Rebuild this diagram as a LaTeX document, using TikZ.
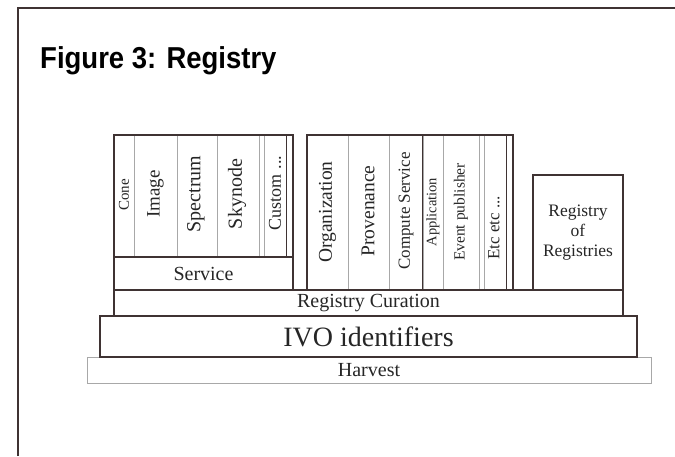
\documentclass[tikz,border=0pt]{standalone}
\usepackage{fontspec}
\setmainfont{Liberation Serif}
\newfontfamily\titlefont{Liberation Sans}
\newcommand\fsz[1]{\fontsize{#1}{#1}\selectfont}
\definecolor{dk}{HTML}{3F3333}
\definecolor{lg}{HTML}{A8A8A8}
\definecolor{tx}{HTML}{262626}
\begin{document}
\begin{tikzpicture}[x=1pt,y=-1pt,
  box/.style={draw=dk, line width=1.1pt, inner sep=0pt, text=tx, font=\fsz{20}},
  lbox/.style={draw=lg, line width=1pt, inner sep=0pt, text=tx, font=\fsz{20}},
  col/.style={draw=lg, line width=1pt, inner sep=0pt},
  grp/.style={draw=dk, line width=1.1pt, inner sep=0pt},
  vt/.style={rotate=90, inner sep=0pt, text=tx},
  dline/.style={draw=dk, line width=1.1pt}]
\useasboundingbox (0,0) rectangle (675,456);
% outer frame (only left and top edges visible)
\coordinate (fbl) at (18,456);
\coordinate (ftl) at (18,8);
\coordinate (ftr) at (675,8);
\draw[dk, line width=1.4pt] (fbl) -- (ftl) -- (ftr);
% title
\node[anchor=base west, inner sep=0pt] (title) at (40,68)
  {\titlefont\bfseries\fsz{27.5}\scalebox{1}[1.1]{Figure 3: Registry}};
% base layers
\node[lbox, minimum width=564, minimum height=26] (harvest) at (369,370) {Harvest};
\node[box, minimum width=537, minimum height=41, font=\fsz{28}] (ivo) at (368.5,336.5) {IVO identifiers};
\node[box, minimum width=509, minimum height=26] (curation) at (368.5,303) {Registry Curation};
\node[box, minimum width=179, minimum height=33] (service) at (203.5,273.5) {Service};
% group 1 columns
\node[col, minimum width=20, minimum height=122] (cone) at (124,196) {};
\node[col, minimum width=43, minimum height=122] (image) at (155.5,196) {};
\node[col, minimum width=40, minimum height=122] (spectrum) at (197,196) {};
\node[col, minimum width=42, minimum height=122] (skynode) at (238,196) {};
\node[col, minimum width=5, minimum height=122] (gapa) at (261.5,196) {};
\node[col, minimum width=22, minimum height=122] (custom) at (275,196) {};
\node[col, minimum width=7, minimum height=122] (gapb) at (289.5,196) {};
\node[grp, minimum width=179, minimum height=122] (grpA) at (203.5,196) {};
\draw[dline] (custom.north east) -- (custom.south east);
% group 2 columns
\node[col, minimum width=41, minimum height=155] (org) at (327.5,212.5) {};
\node[col, minimum width=41, minimum height=155] (prov) at (368.5,212.5) {};
\node[col, minimum width=34, minimum height=155] (comp) at (406,212.5) {};
\node[col, minimum width=20, minimum height=155] (app) at (433,212.5) {};
\node[col, minimum width=36, minimum height=155] (event) at (461,212.5) {};
\node[col, minimum width=5, minimum height=155] (gapc) at (481.5,212.5) {};
\node[col, minimum width=22, minimum height=155] (etc) at (495,212.5) {};
\node[col, minimum width=7, minimum height=155] (gapd) at (509.5,212.5) {};
\node[grp, minimum width=206, minimum height=155] (grpB) at (410,212.5) {};
\draw[dline] (app.north west) -- (app.south west);
\draw[dline] (etc.north east) -- (etc.south east);
% registry of registries
\node[box, minimum width=90, minimum height=115, align=center,
  font=\fontsize{17.5}{20}\selectfont] (rofr) at (578,232.5) {Registry\\of\\Registries};
% vertical labels
\node[vt, font=\fsz{15}] (tcone) at (124,195) {Cone};
\node[vt, font=\fsz{19}] (timage) at (155.5,194) {Image};
\node[vt, font=\fsz{20}] (tspec) at (196,194) {Spectrum};
\node[vt, font=\fsz{20}] (tsky) at (237,194) {Skynode};
\node[vt, font=\fsz{18}] (tcust) at (275,193) {Custom ...};
\node[vt, font=\fsz{19.5}] (torg) at (327.5,212) {Organization};
\node[vt, font=\fsz{19.5}] (tprov) at (368,211) {Provenance};
\node[vt, font=\fsz{17}] (tcomp) at (406,211) {Compute Service};
\node[vt, font=\fsz{14.5}] (tapp) at (433,212) {Application};
\node[vt, font=\fsz{15.5}] (tevt) at (461,212) {Event publisher};
\node[vt, font=\fsz{17}] (tetc) at (494,228) {Etc etc ...};
\end{tikzpicture}
\end{document}
